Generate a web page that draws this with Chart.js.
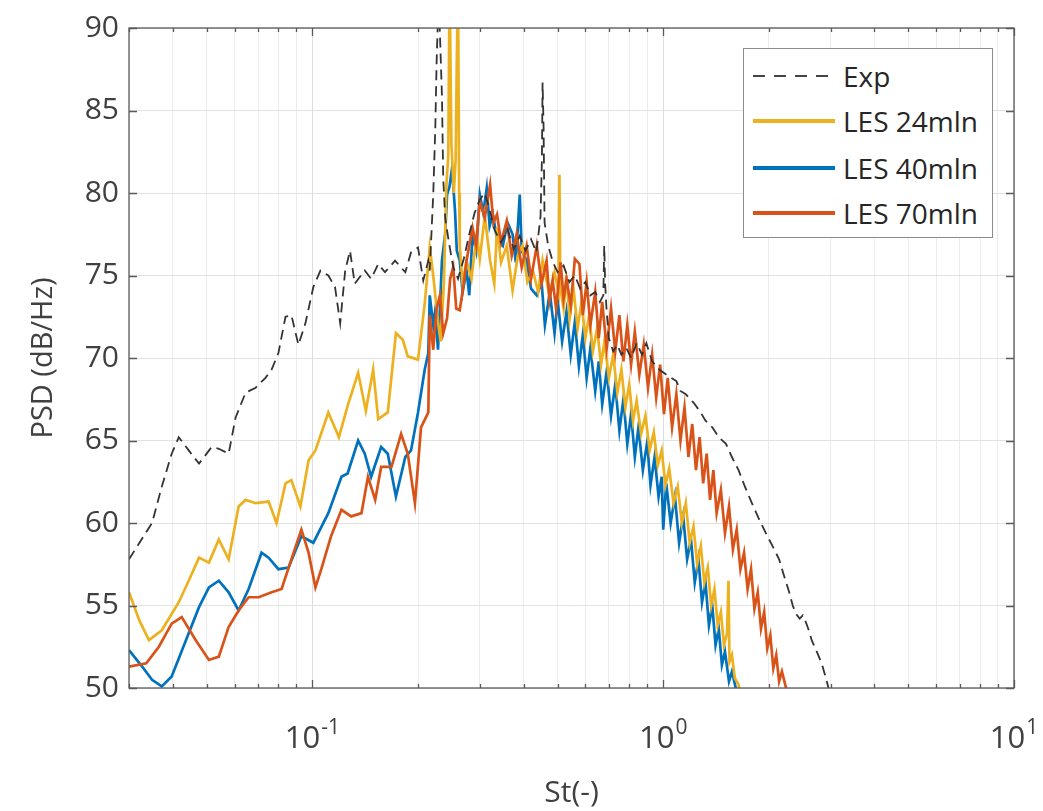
<!DOCTYPE html>
<html>
<head>
<meta charset="utf-8">
<script src="https://cdn.jsdelivr.net/npm/chart.js@4.4.1/dist/chart.umd.min.js"></script>
<style>
  body { margin: 0; background: #fff; }
  #wrap { position: relative; width: 1043px; height: 811px; }
  #legend {
    position: absolute; left: 743px; top: 48px; width: 248px; height: 188px;
    border: 1.5px solid #8c8c8c; background: #fff;
    font-family: "Open Sans", sans-serif; font-size: 28px; color: #262626;
  }
  .row { position: absolute; left: 9px; height: 30px; display: flex; align-items: center; }
  .sample { width: 82px; height: 4px; margin-right: 8px; }
  .dash { height: 1.8px; background: repeating-linear-gradient(to right, #444 0 12px, transparent 12px 21px); }
</style>
</head>
<body>
<div id="wrap">
  <canvas id="psd" width="1043" height="811"></canvas>
  <div id="legend">
    <div class="row" style="top:12px"><div class="sample dash"></div>Exp</div>
    <div class="row" style="top:57px"><div class="sample" style="background:#EDB120"></div>LES 24mln</div>
    <div class="row" style="top:104px"><div class="sample" style="background:#0072BD"></div>LES 40mln</div>
    <div class="row" style="top:149px"><div class="sample" style="background:#D95319"></div>LES 70mln</div>
  </div>
</div>
<script>
// Strouhal number (x) and PSD in dB/Hz (y)

const stExp = [0.0300, 0.0349, 0.0372, 0.0397, 0.0416, 0.0444, 0.0475, 0.0516, 0.0541, 0.0577,
  0.0604, 0.0645, 0.0689, 0.0735, 0.0765, 0.0800, 0.0838, 0.0871, 0.0912, 0.0955,
  0.1006, 0.1054, 0.111, 0.116, 0.120, 0.124, 0.128, 0.132, 0.141, 0.147,
  0.154, 0.161, 0.172, 0.184, 0.191, 0.200, 0.207, 0.214, 0.216, 0.221,
  0.224, 0.226, 0.229, 0.234, 0.236, 0.239, 0.245, 0.252, 0.260, 0.270,
  0.280, 0.290, 0.300, 0.310, 0.320, 0.330, 0.345, 0.360, 0.375, 0.390,
  0.405, 0.420, 0.435, 0.447, 0.451, 0.453, 0.456, 0.459, 0.470, 0.485,
  0.500, 0.520, 0.540, 0.560, 0.580, 0.600, 0.620, 0.640, 0.660, 0.675,
  0.679, 0.683, 0.690, 0.700, 0.720, 0.740, 0.760, 0.785, 0.810, 0.840,
  0.870, 0.895, 0.930, 0.974, 1.02, 1.09, 1.12, 1.16, 1.22, 1.27,
  1.32, 1.38, 1.44, 1.51, 1.57, 1.64, 1.71, 1.79, 1.87, 1.96,
  2.05, 2.14, 2.21, 2.28, 2.34, 2.39, 2.45, 2.50, 2.55, 2.60,
  2.65, 2.74, 2.83, 2.90, 2.96, 3.05]
const psdExp = [57.8, 60.0, 62.2, 64.2, 65.2, 64.4, 63.6, 64.6, 64.5, 64.2,
  66.4, 67.9, 68.2, 68.8, 69.3, 70.3, 72.5, 72.6, 70.8, 72.1,
  74.3, 75.3, 75.0, 74.3, 72.1, 75.3, 76.5, 74.5, 75.3, 74.8,
  75.7, 75.2, 75.9, 75.2, 76.4, 76.7, 74.7, 75.9, 75.3, 79.9,
  83.9, 88.0, 92.0, 85.9, 80.9, 78.5, 77.0, 75.5, 74.8, 76.0,
  77.5, 78.8, 79.6, 80.0, 79.0, 77.8, 77.0, 77.8, 76.6, 77.4,
  76.5, 77.2, 76.4, 78.6, 82.0, 86.7, 84.0, 78.2, 76.8, 75.8,
  75.2, 75.6, 74.6, 75.0, 74.2, 74.6, 73.8, 74.0, 73.4, 73.8,
  76.8, 74.5, 72.8, 71.2, 70.4, 70.8, 70.2, 70.6, 70.0, 70.9,
  70.2, 70.9, 69.8, 69.3, 69.0, 68.6, 68.0, 67.8, 67.3, 66.8,
  66.2, 65.8, 65.2, 64.8, 64.0, 63.2, 62.2, 61.2, 60.3, 59.4,
  58.6, 57.8, 56.8, 55.9, 55.0, 54.5, 54.2, 54.4, 54.0, 53.5,
  52.9, 52.2, 51.5, 50.7, 50.0, 49.0]

const st24 = [0.0300, 0.0321, 0.0342, 0.0372, 0.0416, 0.0444, 0.0475, 0.0507, 0.0541, 0.0577,
  0.0616, 0.0645, 0.0689, 0.0750, 0.0790, 0.0838, 0.0871, 0.0924, 0.0975, 0.102,
  0.111, 0.119, 0.126, 0.135, 0.142, 0.149, 0.154, 0.164, 0.173, 0.181,
  0.187, 0.200, 0.209, 0.214, 0.216, 0.221, 0.224, 0.228, 0.232, 0.237,
  0.241, 0.244, 0.246, 0.249, 0.253, 0.256, 0.258, 0.260, 0.262, 0.263,
  0.268, 0.275, 0.284, 0.294, 0.300, 0.310, 0.321, 0.330, 0.336, 0.345,
  0.358, 0.372, 0.385, 0.397, 0.410, 0.425, 0.440, 0.453, 0.474, 0.490,
  0.503, 0.506, 0.509, 0.520, 0.530, 0.541, 0.555, 0.570, 0.585, 0.600,
  0.615, 0.630, 0.648, 0.665, 0.680, 0.700, 0.720, 0.740, 0.760, 0.780,
  0.800, 0.820, 0.840, 0.865, 0.890, 0.915, 0.940, 0.965, 0.990, 1.015,
  1.04, 1.07, 1.10, 1.13, 1.16, 1.19, 1.22, 1.25, 1.28, 1.31,
  1.34, 1.37, 1.40, 1.43, 1.46, 1.49, 1.52, 1.535, 1.545, 1.57,
  1.60, 1.64, 1.68]
const psd24 = [55.8, 54.1, 52.9, 53.5, 55.2, 56.5, 57.9, 57.6, 59.0, 57.8,
  61.0, 61.4, 61.2, 61.3, 60.0, 62.4, 62.6, 61.0, 63.8, 64.4,
  66.7, 65.2, 67.1, 69.1, 66.8, 69.3, 66.3, 66.7, 71.5, 71.1,
  70.1, 69.9, 73.3, 75.7, 76.7, 75.0, 73.8, 72.2, 71.0, 74.5,
  80.5, 82.3, 93.0, 83.0, 80.0, 82.0, 88.0, 93.0, 80.0, 76.8,
  74.5, 75.9, 74.8, 77.5, 76.0, 78.6, 75.9, 74.5, 77.9, 75.8,
  76.8, 74.1, 76.2, 76.8, 74.6, 75.3, 74.0, 75.9, 73.8, 75.2,
  74.0, 81.1, 74.2, 73.0, 75.0, 72.4, 74.2, 71.8, 73.4, 71.2,
  72.6, 70.4, 71.8, 69.6, 71.0, 68.8, 70.2, 67.9, 69.3, 67.0,
  68.4, 66.2, 67.4, 65.4, 66.5, 64.4, 65.5, 63.5, 64.4, 62.3,
  63.3, 61.2, 62.2, 60.0, 61.2, 58.8, 59.8, 57.5, 58.6, 56.4,
  57.3, 55.0, 56.0, 53.8, 54.6, 52.6, 53.3, 56.5, 51.6, 52.0,
  50.6, 50.2, 49.0]

const st40 = [0.0300, 0.0327, 0.0349, 0.0372, 0.0397, 0.0436, 0.0475, 0.0507, 0.0541, 0.0577,
  0.0616, 0.0658, 0.0716, 0.0750, 0.0800, 0.0855, 0.0930, 0.1006, 0.111, 0.121,
  0.126, 0.135, 0.141, 0.147, 0.157, 0.164, 0.173, 0.184, 0.191, 0.200,
  0.209, 0.214, 0.216, 0.221, 0.224, 0.228, 0.231, 0.234, 0.239, 0.242,
  0.246, 0.250, 0.252, 0.255, 0.258, 0.263, 0.268, 0.275, 0.280, 0.286,
  0.293, 0.300, 0.307, 0.314, 0.320, 0.327, 0.336, 0.349, 0.360, 0.372,
  0.380, 0.390, 0.395, 0.408, 0.420, 0.436, 0.450, 0.460, 0.475, 0.490,
  0.500, 0.515, 0.530, 0.545, 0.560, 0.575, 0.590, 0.605, 0.620, 0.640,
  0.655, 0.670, 0.690, 0.710, 0.730, 0.750, 0.770, 0.790, 0.810, 0.830,
  0.850, 0.875, 0.900, 0.920, 0.945, 0.970, 0.990, 1.00, 1.02, 1.05,
  1.08, 1.11, 1.14, 1.17, 1.20, 1.23, 1.26, 1.29, 1.32, 1.35,
  1.38, 1.41, 1.44, 1.47, 1.50, 1.54, 1.57, 1.61, 1.65]
const psd40 = [52.3, 51.3, 50.5, 50.1, 50.7, 52.9, 54.9, 56.1, 56.5, 55.8,
  54.7, 56.0, 58.2, 57.9, 57.2, 57.3, 59.2, 58.8, 60.6, 62.8,
  63.0, 65.0, 64.2, 62.8, 64.6, 64.2, 61.6, 64.0, 64.4, 66.7,
  69.3, 70.3, 73.8, 72.0, 72.9, 70.5, 73.0, 75.9, 77.5, 79.9,
  80.4, 81.5, 80.5, 78.9, 76.5, 75.9, 74.0, 75.3, 73.8, 77.5,
  76.5, 79.9, 78.8, 80.3, 78.0, 78.7, 77.2, 76.8, 78.2, 77.5,
  75.8, 79.9, 76.5, 75.9, 74.2, 73.8, 74.6, 72.0, 74.0, 71.5,
  73.5, 71.0, 72.8, 70.2, 72.2, 69.5, 71.4, 68.8, 70.6, 68.0,
  69.8, 67.2, 69.2, 66.5, 68.4, 65.6, 67.5, 64.8, 66.6, 64.0,
  65.8, 63.2, 64.9, 62.3, 64.0, 61.6, 62.8, 59.6, 62.4, 60.0,
  61.6, 58.8, 60.4, 57.8, 59.0, 56.4, 57.8, 55.2, 56.4, 53.8,
  55.0, 52.6, 53.6, 51.4, 52.2, 50.4, 51.0, 50.0, 49.0]

const st70 = [0.0300, 0.0336, 0.0365, 0.0397, 0.0424, 0.0465, 0.0507, 0.0541, 0.0577, 0.0616,
  0.0658, 0.0703, 0.0765, 0.0817, 0.0871, 0.0930, 0.0975, 0.102, 0.106, 0.113,
  0.121, 0.129, 0.138, 0.144, 0.151, 0.157, 0.168, 0.179, 0.187, 0.196,
  0.204, 0.214, 0.216, 0.221, 0.226, 0.231, 0.236, 0.242, 0.247, 0.252,
  0.257, 0.263, 0.270, 0.275, 0.286, 0.293, 0.300, 0.310, 0.321, 0.328,
  0.336, 0.345, 0.358, 0.370, 0.382, 0.395, 0.408, 0.420, 0.436, 0.450,
  0.465, 0.474, 0.484, 0.495, 0.510, 0.520, 0.530, 0.545, 0.560, 0.577,
  0.590, 0.605, 0.620, 0.640, 0.655, 0.670, 0.690, 0.710, 0.730, 0.750,
  0.770, 0.790, 0.810, 0.830, 0.855, 0.880, 0.905, 0.930, 0.955, 0.980,
  1.005, 1.03, 1.06, 1.09, 1.12, 1.15, 1.18, 1.21, 1.24, 1.27,
  1.30, 1.33, 1.36, 1.39, 1.42, 1.46, 1.50, 1.54, 1.58, 1.62,
  1.66, 1.70, 1.74, 1.78, 1.82, 1.86, 1.90, 1.94, 1.98, 2.02,
  2.06, 2.10, 2.14, 2.18, 2.24, 2.30]
const psd70 = [51.3, 51.5, 52.5, 53.9, 54.3, 52.9, 51.7, 51.9, 53.7, 54.7,
  55.5, 55.5, 55.8, 56.0, 57.8, 59.6, 58.2, 56.1, 57.2, 59.2,
  60.8, 60.4, 60.6, 62.8, 61.4, 63.4, 63.4, 65.4, 64.2, 61.2,
  65.8, 66.7, 72.6, 70.5, 73.0, 73.8, 71.5, 72.4, 74.8, 75.5,
  73.0, 72.9, 74.5, 75.9, 77.9, 76.8, 79.5, 78.5, 80.5, 78.2,
  78.7, 77.0, 78.3, 76.2, 77.5, 75.5, 76.8, 74.8, 76.8, 74.5,
  75.9, 73.5, 74.7, 73.0, 75.8, 73.6, 74.8, 73.2, 76.0, 75.7,
  72.6, 74.6, 72.0, 74.0, 71.2, 73.4, 70.6, 73.0, 70.4, 72.6,
  69.8, 72.0, 69.6, 71.6, 69.0, 70.8, 68.2, 70.2, 67.6, 69.6,
  66.6, 68.8, 65.8, 67.8, 65.0, 67.0, 64.0, 66.0, 63.2, 65.2,
  62.4, 64.2, 61.4, 63.2, 60.6, 62.0, 59.4, 61.0, 58.4, 59.6,
  57.2, 58.2, 56.0, 57.2, 54.8, 55.8, 53.6, 54.6, 52.4, 53.2,
  51.2, 52.0, 50.4, 51.0, 50.0, 49.0]

// log axis tick positions (2..9 of every decade); decades get a label
const xTicks = [0.03, 0.04, 0.05, 0.06, 0.07, 0.08, 0.09,
  0.1, 0.2, 0.3, 0.4, 0.5, 0.6, 0.7, 0.8, 0.9,
  1, 2, 3, 4, 5, 6, 7, 8, 9, 10]
const xDecades = [0.1, 1, 10]
const xExponents = ['-1', '0', '1']
const yTicks = [50, 55, 60, 65, 70, 75, 80, 85, 90]

function pts(xs, ys) {
  return xs.map((x, i) => ({ x: x, y: ys[i] }))
}
function isDecade(v) {
  const l = Math.log10(v)
  return Math.abs(l - Math.round(l)) < 1e-6
}

const font = "'Open Sans', sans-serif"
const textColor = '#404040'

// MATLAB-like box with inward ticks, drawn over the data, plus 10^n labels
const axesBox = {
  id: 'axesBox',
  afterDatasetsDraw(chart) {
    const c = chart.ctx, a = chart.chartArea
    const xs = chart.scales.x, ys = chart.scales.y
    c.save()
    c.strokeStyle = '#5a5a5a'
    c.lineWidth = 1.3
    c.beginPath()
    xTicks.forEach(v => {
      const px = Math.round(xs.getPixelForValue(v)) + 0.5
      const len = isDecade(v) ? 8 : 4
      c.moveTo(px, a.bottom); c.lineTo(px, a.bottom - len)
      c.moveTo(px, a.top); c.lineTo(px, a.top + len)
    })
    yTicks.forEach(v => {
      const py = Math.round(ys.getPixelForValue(v)) + 0.5
      c.moveTo(a.left, py); c.lineTo(a.left + 8, py)
      c.moveTo(a.right, py); c.lineTo(a.right - 8, py)
    })
    c.stroke()
    c.strokeRect(a.left, a.top, a.right - a.left, a.bottom - a.top)

    // decade labels with a raised exponent
    c.fillStyle = textColor
    c.textBaseline = 'alphabetic'
    c.textAlign = 'left'
    xDecades.forEach((v, i) => {
      const px = xs.getPixelForValue(v)
      c.font = '31px ' + font
      const wb = c.measureText('10').width
      c.font = '21px ' + font
      const we = c.measureText(xExponents[i]).width
      const x0 = px - (wb + 1 + we) / 2
      c.font = '31px ' + font
      c.fillText('10', x0, a.bottom + 60)
      c.font = '21px ' + font
      c.fillText(xExponents[i], x0 + wb + 1, a.bottom + 46)
    })
    c.restore()
  }
}

new Chart(document.getElementById('psd'), {
  type: 'line',
  data: {
    datasets: [{
      label: 'Exp',
      data: pts(stExp, psdExp),
      borderColor: '#333333',
      borderWidth: 1.8,
      borderDash: [10, 6],
      order: 0
    }, {
      label: 'LES 24mln',
      data: pts(st24, psd24),
      borderColor: '#EDB120',
      borderWidth: 2.7,
      order: 2
    }, {
      label: 'LES 40mln',
      data: pts(st40, psd40),
      borderColor: '#0072BD',
      borderWidth: 2.7,
      order: 3
    }, {
      label: 'LES 70mln',
      data: pts(st70, psd70),
      borderColor: '#D95319',
      borderWidth: 2.7,
      order: 1
    }]
  },
  options: {
    responsive: false,
    animation: false,
    events: [],
    elements: { point: { radius: 0 }, line: { tension: 0, borderJoinStyle: 'miter' } },
    layout: { padding: { left: 22, right: 29, top: 28, bottom: 0 } },
    plugins: { legend: { display: false }, tooltip: { enabled: false } },
    scales: {
      x: {
        type: 'logarithmic',
        min: 0.03,
        max: 10,
        afterBuildTicks: s => { s.ticks = xTicks.map(v => ({ value: v })) },
        afterFit: s => { s.height = 811 - 688 },
        ticks: {
          autoSkip: false,
          maxRotation: 0,
          padding: 0,
          font: { family: font, size: 10 },
          callback: () => ''
        },
        grid: {
          drawTicks: false,
          color: ctx => isDecade(ctx.tick.value) ? '#dcdcdc' : '#ececec',
          lineWidth: 1
        },
        border: { display: false },
        title: {
          display: true, text: 'St(-)', color: textColor,
          font: { family: font, size: 30 }, padding: { top: 0, bottom: 0 }
        }
      },
      y: {
        min: 50,
        max: 90,
        afterBuildTicks: s => { s.ticks = yTicks.map(v => ({ value: v })) },
        afterFit: s => { s.width = 129 - 22 },
        ticks: {
          padding: 10,
          color: textColor,
          font: { family: font, size: 30 }
        },
        grid: { drawTicks: false, color: '#e2e2e2', lineWidth: 1 },
        border: { display: false },
        title: {
          display: true, text: 'PSD (dB/Hz)', color: textColor,
          font: { family: font, size: 29 }, padding: { bottom: 0 }
        }
      }
    }
  },
  plugins: [axesBox]
})
</script>
</body>
</html>
